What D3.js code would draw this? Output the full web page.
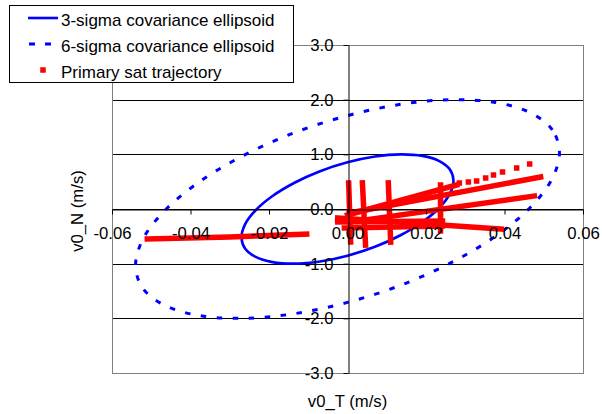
<!DOCTYPE html>
<html>
<head>
<meta charset="utf-8">
<script src="https://cdn.jsdelivr.net/npm/d3@7"></script>
<style>
  html, body { margin: 0; padding: 0; background: #fff; }
  svg { display: block; font-family: "Liberation Sans", Arial, sans-serif; }
</style>
</head>
<body>
<svg id="chart" width="602" height="414"></svg>
<script>
// Axis ticks
const xTicks = [-0.06, -0.04, -0.02, 0.00, 0.02, 0.04, 0.06];
const yTicks = [-3, -2, -1, 0, 1, 2, 3];

// Series names (legend order)
const seriesNames = ["3-sigma covariance ellipsoid", "6-sigma covariance ellipsoid", "Primary sat trajectory"];

// 3-sigma covariance ellipse outline [v0_T, v0_N]
const ellipse3 = [
  [0.0270, 0.520], [0.0261, 0.723], [0.0234, 0.877], [0.0191, 0.972],
  [0.0135, 1.000], [0.0070, 0.960], [0.0000, 0.854], [-0.0070, 0.691],
  [-0.0135, 0.480], [-0.0191, 0.237], [-0.0234, -0.023], [-0.0261, -0.281],
  [-0.0270, -0.520], [-0.0261, -0.723], [-0.0234, -0.877], [-0.0191, -0.972],
  [-0.0135, -1.000], [-0.0070, -0.960], [0.0000, -0.854], [0.0070, -0.691],
  [0.0135, -0.480], [0.0191, -0.237], [0.0234, 0.023], [0.0261, 0.281]
];

// 6-sigma covariance ellipse outline [v0_T, v0_N]
const ellipse6 = [
  [0.0540, 1.040], [0.0522, 1.446], [0.0468, 1.754], [0.0382, 1.944],
  [0.0270, 2.000], [0.0140, 1.920], [0.0000, 1.708], [-0.0140, 1.382],
  [-0.0270, 0.960], [-0.0382, 0.474], [-0.0468, -0.046], [-0.0522, -0.562],
  [-0.0540, -1.040], [-0.0522, -1.446], [-0.0468, -1.754], [-0.0382, -1.944],
  [-0.0270, -2.000], [-0.0140, -1.920], [0.0000, -1.708], [0.0140, -1.382],
  [0.0270, -0.960], [0.0382, -0.474], [0.0468, 0.046], [0.0522, 0.562]
];

// Primary satellite trajectory: densely sampled runs [v0_T, v0_N]
const trajectoryRuns = [
  [[-0.0510, -0.549], [-0.0300, -0.510], [-0.0104, -0.457]],
  [[0.0003, 0.476], [0.0008, -0.604]],
  [[0.0038, 0.476], [0.0046, -0.659]],
  [[0.0104, 0.476], [0.0110, -0.604]],
  [[0.0237, 0.439], [0.0237, -0.073]],
  [[0.0237, -0.150], [0.0237, -0.400]],
  [[0.0000, -0.110], [0.0278, 0.439]],
  [[0.0005, -0.073], [0.0492, 0.585]],
  [[0.0046, -0.201], [0.0476, 0.238]],
  [[-0.0025, -0.165], [0.0392, -0.366]],
  [[-0.0025, -0.238], [0.0242, -0.220]],
  [[-0.0008, -0.348], [0.0242, -0.311]]
];

// Primary satellite trajectory: sparse samples [v0_T, v0_N]
const trajectoryDots = [
  [0.0285, 0.476], [0.0308, 0.494], [0.0329, 0.512], [0.0352, 0.567],
  [0.0372, 0.622], [0.0395, 0.677], [0.0431, 0.750], [0.0464, 0.823]
];

const svg = d3.select("#chart");
const plot = { left: 112, right: 583, top: 45, bottom: 373 };

const x = d3.scaleLinear().domain([-0.06, 0.06]).range([plot.left, plot.right]);
const y = d3.scaleLinear().domain([-3, 3]).range([plot.bottom, plot.top]);

const blue = "#0000ff", red = "#ff0000";
const fontSize = "16.7px";

// Horizontal gridlines
svg.append("g")
  .selectAll("line")
  .data(yTicks.filter(d => d !== -3))
  .join("line")
  .attr("x1", plot.left).attr("x2", plot.right)
  .attr("y1", d => Math.round(y(d)) + 0.5).attr("y2", d => Math.round(y(d)) + 0.5)
  .attr("stroke", "#000").attr("stroke-width", 1);

// Plot area frame
svg.append("rect")
  .attr("x", plot.left + 0.5).attr("y", plot.top + 0.5)
  .attr("width", plot.right - plot.left).attr("height", plot.bottom - plot.top)
  .attr("fill", "none").attr("stroke", "#808080").attr("stroke-width", 1);

// Axes through the origin
const fmtX = d => d.toFixed(2);
const fmtY = d => d.toFixed(1);

const xAxis = svg.append("g")
  .attr("transform", `translate(0,${Math.round(y(0)) + 0.5})`)
  .call(d3.axisBottom(x).tickValues(xTicks).tickFormat(fmtX).tickSize(5).tickSizeOuter(0).tickPadding(13));

const yAxis = svg.append("g")
  .attr("transform", `translate(${Math.round(x(0)) + 0.5},0)`)
  .call(d3.axisLeft(y).tickValues(yTicks).tickFormat(fmtY).tickSize(5).tickSizeOuter(0).tickPadding(10));

[xAxis, yAxis].forEach(g => {
  g.select(".domain").attr("stroke", "#000");
  g.selectAll(".tick line").attr("stroke", "#000");
  g.selectAll(".tick text")
    .attr("fill", "#000")
    .style("font-family", "'Liberation Sans', Arial, sans-serif")
    .style("font-size", fontSize);
});

// Ellipses
const ellipseLine = d3.line()
  .x(d => x(d[0])).y(d => y(d[1]))
  .curve(d3.curveCatmullRomClosed);

svg.append("path")
  .datum(ellipse3)
  .attr("d", ellipseLine)
  .attr("fill", "none").attr("stroke", blue).attr("stroke-width", 2.6);

svg.append("path")
  .datum(ellipse6)
  .attr("d", ellipseLine)
  .attr("fill", "none").attr("stroke", blue).attr("stroke-width", 3)
  .attr("stroke-dasharray", "5.5,10.5");

// Trajectory
const runLine = d3.line().x(d => x(d[0])).y(d => y(d[1]));
svg.append("g")
  .selectAll("path")
  .data(trajectoryRuns)
  .join("path")
  .attr("d", runLine)
  .attr("fill", "none").attr("stroke", red)
  .attr("stroke-width", 5.5).attr("stroke-linecap", "square");

const mk = 5.5;
svg.append("g")
  .selectAll("rect")
  .data(trajectoryDots)
  .join("rect")
  .attr("x", d => x(d[0]) - mk / 2).attr("y", d => y(d[1]) - mk / 2)
  .attr("width", mk).attr("height", mk)
  .attr("fill", red);

// Keep tick labels above the data
xAxis.raise();
yAxis.raise();

// Axis titles
svg.append("text")
  .attr("x", x(0)).attr("y", 407)
  .attr("text-anchor", "middle")
  .style("font-size", fontSize)
  .text("v0_T (m/s)");

svg.append("text")
  .attr("transform", `translate(83,${y(0) + 2}) rotate(-90)`)
  .attr("text-anchor", "middle")
  .style("font-size", fontSize)
  .text("v0_N (m/s)");

// Legend
const legend = svg.append("g");
legend.append("rect")
  .attr("x", 9.5).attr("y", 5.5).attr("width", 284).attr("height", 77)
  .attr("fill", "#fff").attr("stroke", "#000").attr("stroke-width", 1);

const rowY = [18, 44, 70];
legend.append("line")
  .attr("x1", 28).attr("x2", 58).attr("y1", rowY[0]).attr("y2", rowY[0])
  .attr("stroke", blue).attr("stroke-width", 2.6);
legend.append("line")
  .attr("x1", 29).attr("x2", 52).attr("y1", rowY[1]).attr("y2", rowY[1])
  .attr("stroke", blue).attr("stroke-width", 3).attr("stroke-dasharray", "6,10");
legend.append("rect")
  .attr("x", 43 - mk / 2).attr("y", rowY[2] - mk / 2).attr("width", mk).attr("height", mk)
  .attr("fill", red);

legend.selectAll("text.name")
  .data(seriesNames)
  .join("text")
  .attr("class", "name")
  .attr("x", 61).attr("y", (d, i) => rowY[i] + 8)
  .style("font-size", "17px")
  .text(d => d);
</script>
</body>
</html>
